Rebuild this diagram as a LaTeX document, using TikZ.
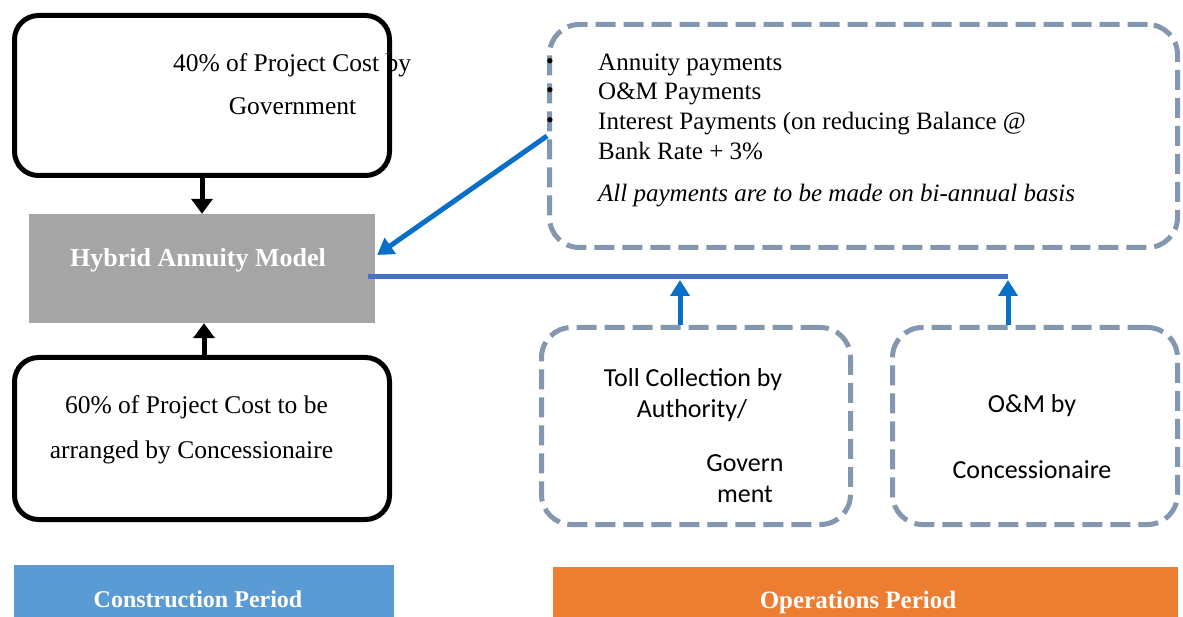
\documentclass[tikz,border=0pt]{standalone}
\usepackage{fontspec}
\setmainfont{Liberation Serif}
\newfontfamily\calibri{Carlito}
\usetikzlibrary{arrows.meta,calc}
\definecolor{dashgray}{HTML}{8497B0}
\definecolor{linkblue}{HTML}{0A6FC8}
\definecolor{busblue}{HTML}{4472C4}
\definecolor{hamgray}{HTML}{A5A5A5}
\definecolor{constblue}{HTML}{5B9BD5}
\definecolor{opsorange}{HTML}{ED7D31}
\begin{document}
\begin{tikzpicture}[x=1pt,y=-1pt,
  solidbox/.style={draw=black,line width=5pt,rounded corners=24pt,inner sep=0pt},
  dashbox/.style={draw=dashgray,line width=5pt,rounded corners=30pt,dash pattern=on 20pt off 8pt,inner sep=0pt},
  fillbox/.style={draw=none,inner sep=0pt},
  txt/.style={inner sep=0pt,anchor=base,font=\fontsize{25.5}{30}\selectfont},
  ltxt/.style={inner sep=0pt,anchor=base west,font=\fontsize{25}{30}\selectfont},
  sanstxt/.style={inner sep=0pt,anchor=base,font=\calibri\fontsize{26}{30}\selectfont},
  headtxt/.style={inner sep=0pt,anchor=base,text=white,font=\fontsize{24}{28}\selectfont\bfseries},
  bulletmark/.style={inner sep=0pt,anchor=base,font=\fontsize{22}{26}\selectfont},
  blackarrow/.style={draw=black,line width=5pt,-{Triangle[length=15pt,width=21pt]}},
  bluearrow/.style={draw=linkblue,line width=5pt,-{Triangle[length=16pt,width=19pt]}},
  busline/.style={draw=busblue,line width=5pt}
]
\useasboundingbox (0,0) rectangle (1183,617);

% central model box
\node[fillbox,fill=hamgray,minimum width=346pt,minimum height=109pt] (ham) at (202,268.5) {};
\node[headtxt,font=\fontsize{26}{30}\selectfont\bfseries] (hamlabel) at (198,267) {Hybrid Annuity Model};

% period bands
\node[fillbox,fill=constblue,minimum width=380pt,minimum height=56pt] (constr) at (204,593) {};
\node[headtxt] (constrlabel) at (198,607) {Construction Period};
\node[fillbox,fill=opsorange,minimum width=625pt,minimum height=54pt] (ops) at (865.5,594) {};
\node[headtxt,font=\fontsize{25}{30}\selectfont\bfseries] (opslabel) at (858,608) {Operations Period};

% box texts
\node[txt] (govl1) at (292,72) {40\% of Project Cost by};
\node[txt] (govl2) at (292.5,115) {Government};
\node[txt] (concl1) at (196.5,413) {60\% of Project Cost to be};
\node[txt] (concl2) at (191.5,458) {arranged by Concessionaire};

\node[ltxt] (payl1) at (598,71) {Annuity payments};
\node[ltxt] (payl2) at (598,100) {O\&M Payments};
\node[ltxt] (payl3) at (598,130) {Interest Payments (on reducing Balance @};
\node[ltxt] (payl4) at (598,160) {Bank Rate + 3\%};
\node[ltxt,font=\fontsize{25}{30}\selectfont\itshape] (payl5) at (598,202) {All payments are to be made on bi-annual basis};

\node[sanstxt] (tolll1) at (693,387) {Toll Collection by};
\node[sanstxt] (tolll2) at (692,417) {Authority/};
\node[sanstxt] (tolll3) at (745,471) {Govern};
\node[sanstxt] (tolll4) at (745,502) {ment};
\node[sanstxt] (oml1) at (1032,412) {O\&M by};
\node[sanstxt] (oml2) at (1032,478) {Concessionaire};

% outlined boxes
\node[solidbox,minimum width=375pt,minimum height=160pt] (gov) at (202,95.5) {};
\node[solidbox,minimum width=375pt,minimum height=162pt] (conc) at (202,438.5) {};
\node[dashbox,minimum width=628pt,minimum height=223pt] (pay) at (863.5,136) {};
\node[dashbox,minimum width=309pt,minimum height=197pt] (toll) at (696,426) {};
\node[dashbox,minimum width=285pt,minimum height=197pt] (om) at (1035,426) {};

% list bullets, set over the dashed outline
\foreach \yb/\nm in {71/b1,100/b2,130/b3}
  \node[bulletmark] (\nm) at (550,\yb-2) {\textbullet};

% connectors
\draw[blackarrow] (gov.south) -- (ham.north);
\draw[blackarrow] ($(conc.north)+(2,0)$) -- ($(ham.south)+(2,0)$);
\draw[bluearrow] (pay.west) -- ($(ham.east)+(2,-13.5)$);
\coordinate (j1) at (680,277);
\coordinate (j2) at (1008,277);
\draw[busline] ($(ham.east)+(-7,8.5)$) -- (j2);
\draw[bluearrow] (j1 |- toll.north) -- ($(j1)+(0,3)$);
\draw[bluearrow] (j2 |- om.north) -- ($(j2)+(0,3)$);
\end{tikzpicture}
\end{document}
